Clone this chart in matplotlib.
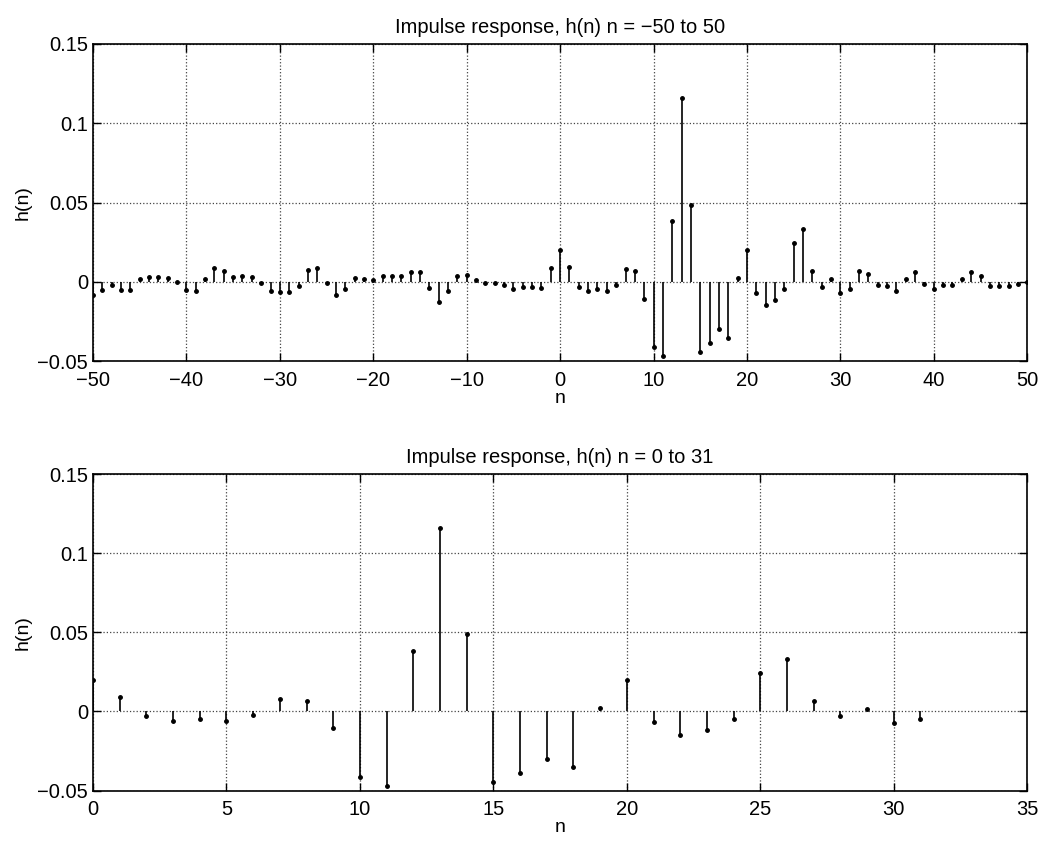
import matplotlib
matplotlib.use("Agg")
import matplotlib.pyplot as plt
import numpy as np

plt.rcParams['font.family'] = ['Liberation Sans', 'DejaVu Sans']

# h(n) for n = -50 .. -1
h_neg = [-0.0085, -0.005, -0.002, -0.005, -0.005, 0.002, 0.003, 0.003, 0.0025, 0.0,
         -0.005, -0.0055, 0.0015, 0.009, 0.007, 0.003, 0.0035, 0.003, -0.001, -0.006,
         -0.0062, -0.0062, -0.0027, 0.0075, 0.009, -0.001, -0.008, -0.0045, 0.0025, 0.002,
         0.001, 0.0035, 0.0035, 0.0035, 0.006, 0.006, -0.004, -0.013, -0.0055, 0.004,
         0.0045, 0.001, -0.0006, -0.0008, -0.002, -0.0045, -0.003, -0.0035, -0.004, 0.009]
# h(n) for n = 0 .. 31
h_main = [0.020, 0.0094, -0.0031, -0.0057, -0.0046, -0.0059, -0.0021, 0.0080, 0.0069, -0.0105,
          -0.0413, -0.047, 0.0382, 0.116, 0.0487, -0.0444, -0.0388, -0.0297, -0.0352, 0.0025,
          0.0199, -0.0069, -0.0147, -0.0115, -0.0046, 0.0245, 0.0333, 0.0067, -0.0031, 0.0015,
          -0.0071, -0.0048]
# h(n) for n = 32 .. 50
h_pos = [0.0066, 0.005, -0.0017, -0.0027, -0.0055, 0.0015, 0.0062, -0.0012, -0.0048, -0.002,
         -0.0017, 0.0015, 0.0062, 0.0035, -0.0027, -0.0027, -0.0027, -0.0012, -0.0003]

n_all = np.arange(-50, 51)
h_all = np.array(h_neg + h_main + h_pos)
n_main = np.arange(0, 32)
h_main = np.array(h_main)


def draw(ax, n, h, title, xlim, xstep):
    ml, sl, bl = ax.stem(n, h, linefmt='k-', markerfmt='k.', basefmt=' ')
    plt.setp(sl, linewidth=1.2)
    plt.setp(ml, markersize=5)
    ax.set_xlim(*xlim)
    ax.set_ylim(-0.05, 0.15)
    ax.set_xticks(np.arange(xlim[0], xlim[1] + 1, xstep))
    ax.set_yticks([-0.05, 0, 0.05, 0.1, 0.15])
    ax.set_yticklabels(['\u22120.05', '0', '0.05', '0.1', '0.15'])
    ax.set_xticklabels([str(v).replace('-', '\u2212') for v in ax.get_xticks().astype(int)])
    ax.grid(True, linestyle=':', color='#444444', linewidth=0.9)
    ax.tick_params(direction='in', top=True, right=True, labelsize=14.5, length=6, width=1)
    ax.tick_params(axis='x', pad=7)
    for s in ax.spines.values():
        s.set_linewidth(1.2)
    ax.set_title(title, fontsize=14.5, pad=8)
    ax.set_xlabel('n', fontsize=14, labelpad=0)
    ax.set_ylabel('h(n)', fontsize=14)


fig = plt.figure(figsize=(10.45, 8.42), dpi=100)
ax1 = fig.add_axes([0.089, 0.571, 0.894, 0.377])
ax2 = fig.add_axes([0.089, 0.061, 0.894, 0.376])

draw(ax1, n_all, h_all, 'Impulse response, h(n) n = \u221250 to 50', (-50, 50), 10)
draw(ax2, n_main, h_main, 'Impulse response, h(n) n = 0 to 31', (0, 35), 5)

fig.savefig('out.png', dpi=100)
